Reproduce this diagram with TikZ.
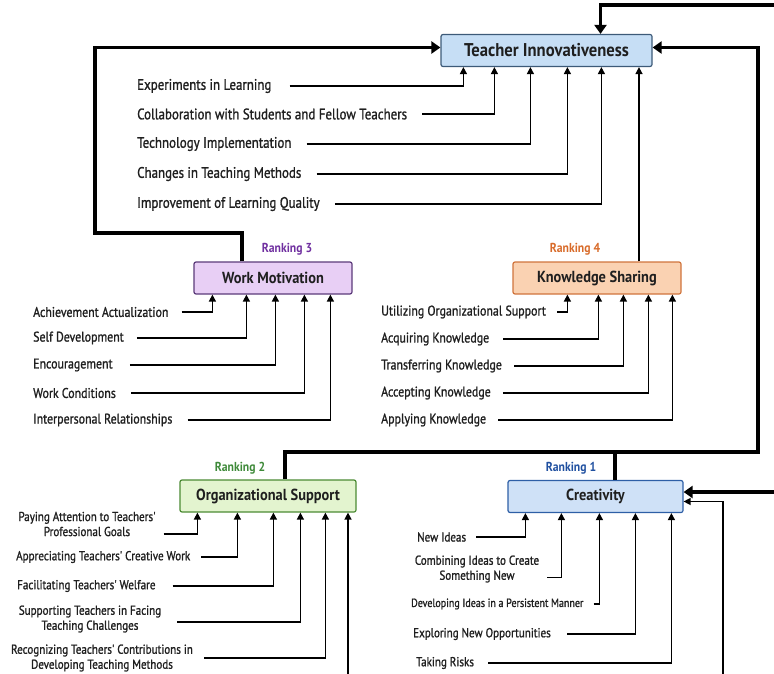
\documentclass[tikz,border=0pt]{standalone}
\usepackage{fontspec}
\setmainfont{PT Sans}
\newfontfamily\labelfont{PT Sans}[FakeStretch=0.85, FakeBold=1.2]
\newfontfamily\titlefont{PT Sans}[FakeStretch=0.9]
\usepackage{xcolor}
\usepackage{tikz}
\usetikzlibrary{arrows.meta,positioning,calc}
\definecolor{tiblue}{RGB}{198,222,245}
\definecolor{tiedge}{RGB}{61,90,120}
\definecolor{crblue}{RGB}{207,225,247}
\definecolor{credge}{RGB}{46,95,166}
\definecolor{wmpurple}{RGB}{232,207,245}
\definecolor{wmedge}{RGB}{91,58,122}
\definecolor{ksorange}{RGB}{250,210,178}
\definecolor{ksedge}{RGB}{208,116,60}
\definecolor{osgreen}{RGB}{227,244,207}
\definecolor{osedge}{RGB}{76,139,52}
\definecolor{rankone}{RGB}{32,80,160}
\definecolor{ranktwo}{RGB}{63,138,58}
\definecolor{rankthree}{RGB}{112,48,160}
\definecolor{rankfour}{RGB}{216,107,42}

\begin{document}
\begin{tikzpicture}[
  x=1pt, y=-1pt,
  every node/.style={text=black!88},
  factorbox/.style={rectangle, rounded corners=2pt, minimum height=32pt,
    inner sep=0pt, line width=1.2pt, font=\titlefont\bfseries\fontsize{16}{18}\selectfont},
  tinode/.style={factorbox, draw=tiedge, fill=tiblue, minimum width=211pt,
    font=\titlefont\bfseries\fontsize{18.5}{20}\selectfont},
  wmnode/.style={factorbox, draw=wmedge, fill=wmpurple, minimum width=158pt},
  ksnode/.style={factorbox, draw=ksedge, fill=ksorange, minimum width=168pt},
  osnode/.style={factorbox, draw=osedge, fill=osgreen, minimum width=176pt},
  crnode/.style={factorbox, draw=credge, fill=crblue, minimum width=175pt},
  ranklabel/.style={font=\titlefont\bfseries\fontsize{13}{14}\selectfont, inner sep=0pt},
  indicator/.style={anchor=west, inner sep=0pt, font=\labelfont\fontsize{14}{16}\selectfont},
  smallindicator/.style={indicator, font=\labelfont\fontsize{13}{15}\selectfont},
  indicator2/.style={align=center, inner sep=0pt, font=\labelfont\fontsize{13}{15}\selectfont},
  arr/.style={-{Triangle[length=7pt,width=7pt]}, line width=1.4pt},
  bigarr/.style={-{Triangle[length=9pt,width=12pt]}, line width=3.6pt},
  mainline/.style={line width=3.6pt},
]
  \useasboundingbox (0,0) rectangle (774,674);

  % Factors
  \node[tinode] (ti) at (546.5,50.5) {Teacher Innovativeness};
  \node[wmnode] (wm) at (273,278) {Work Motivation};
  \node[ksnode] (ks) at (597,278) {Knowledge Sharing};
  \node[osnode] (os) at (268,496) {Organizational Support};
  \node[crnode] (cr) at (595.5,496.5) {Creativity};

  % Rankings
  \node[ranklabel, text=rankthree] (r3) at (287,249) {Ranking 3};
  \node[ranklabel, text=rankfour] (r4) at (575,249) {Ranking 4};
  \node[ranklabel, text=ranktwo] (r2) at (240,468) {Ranking 2};
  \node[ranklabel, text=rankone] (r1) at (571,468) {Ranking 1};

  % Indicators of teacher innovativeness
  \node[indicator, font=\labelfont\fontsize{15.2}{17}\selectfont] (t1) at (137,86) {Experiments in Learning};
  \node[indicator, font=\labelfont\fontsize{15.2}{17}\selectfont] (t2) at (137,114) {Collaboration with Students and Fellow Teachers};
  \node[indicator, font=\labelfont\fontsize{15.2}{17}\selectfont] (t3) at (137,144) {Technology Implementation};
  \node[indicator, font=\labelfont\fontsize{15.2}{17}\selectfont] (t4) at (137,174) {Changes in Teaching Methods};
  \node[indicator, font=\labelfont\fontsize{15.2}{17}\selectfont] (t5) at (137,204) {Improvement of Learning Quality};

  % Indicators of work motivation
  \node[indicator] (w1) at (33,312) {Achievement Actualization};
  \node[indicator] (w2) at (33,338) {Self Development};
  \node[indicator] (w3) at (33,365) {Encouragement};
  \node[indicator] (w4) at (33,393) {Work Conditions};
  \node[indicator] (w5) at (33,420) {Interpersonal Relationships};

  % Indicators of knowledge sharing
  \node[indicator] (k1) at (381,312) {Utilizing Organizational Support};
  \node[indicator] (k2) at (381,339) {Acquiring Knowledge};
  \node[indicator] (k3) at (381,366) {Transferring Knowledge};
  \node[indicator] (k4) at (381,393) {Accepting Knowledge};
  \node[indicator] (k5) at (381,420) {Applying Knowledge};

  % Indicators of organizational support
  \node[indicator2] (o1) at (87,524) {Paying Attention to Teachers'\\Professional Goals};
  \node[smallindicator] (o2) at (16,557) {Appreciating Teachers' Creative Work};
  \node[smallindicator] (o3) at (17,586) {Facilitating Teachers' Welfare};
  \node[indicator2] (o4) at (90,619) {Supporting Teachers in Facing\\Teaching Challenges};
  \node[indicator2] (o5) at (102,658) {Recognizing Teachers' Contributions in\\Developing Teaching Methods};

  % Indicators of creativity
  \node[smallindicator] (c1) at (417,537) {New Ideas};
  \node[indicator2] (c2) at (477,569) {Combining Ideas to Create\\Something New};
  \node[indicator, font=\labelfont\fontsize{11.8}{13}\selectfont] (c3) at (411,604) {Developing Ideas in a Persistent Manner};
  \node[smallindicator] (c4) at (413,634) {Exploring New Opportunities};
  \node[smallindicator] (c5) at (416,663) {Taking Risks};

  % Free ends
  \coordinate (topin) at (774,5);
  \coordinate (leftturn) at (95,233);
  \coordinate (rightturn) at (758,452);
  \coordinate (crin) at (774,492);
  \coordinate (crloop) at (723,674);
  \coordinate (osloop) at (348,674);
  \coordinate (kstop) at ([xshift=42pt]ks.north);

  % Main paths
  \draw[bigarr] (topin) -| ([xshift=54pt]ti.north);
  \draw[bigarr] ([xshift=-31pt]wm.north) |- (leftturn) |- ([yshift=3pt]ti.west);
  \draw[bigarr] ([xshift=17pt]os.north) |- (rightturn) |- ([yshift=3pt]ti.east);
  \draw[mainline] ([xshift=19.5pt]cr.north) |- (rightturn);
  \draw[bigarr] (crin) -- ([yshift=4.5pt]cr.east);
  \draw[arr] (crloop) |- ([yshift=-5pt]cr.east);
  \draw[arr] (osloop) -- (osloop |- os.south);
  \draw[arr] (kstop) -- (kstop |- ti.south);

  % Edges to teacher innovativeness
  \draw[arr] ([xshift=18pt]t1.east) -| ([xshift=23pt]ti.south west);
  \draw[arr] ([xshift=15pt]t2.east) -| ([xshift=54pt]ti.south west);
  \draw[arr] ([xshift=15pt]t3.east) -| ([xshift=90pt]ti.south west);
  \draw[arr] ([xshift=15pt]t4.east) -| ([xshift=127pt]ti.south west);
  \draw[arr] ([xshift=15pt]t5.east) -| ([xshift=161pt]ti.south west);

  % Edges to work motivation
  \draw[arr] ([xshift=13pt]w1.east) -| ([xshift=19pt]wm.south west);
  \draw[arr] ([xshift=13pt]w2.east) -| ([xshift=53pt]wm.south west);
  \draw[arr] ([xshift=17pt]w3.east) -| ([xshift=82pt]wm.south west);
  \draw[arr] ([xshift=15pt]w4.east) -| ([xshift=111pt]wm.south west);
  \draw[arr] ([xshift=15pt]w5.east) -| ([xshift=137pt]wm.south west);

  % Edges to knowledge sharing
  \draw[arr] ([xshift=11pt]k1.east) -| ([xshift=55pt]ks.south west);
  \draw[arr] ([xshift=14pt]k2.east) -| ([xshift=86pt]ks.south west);
  \draw[arr] ([xshift=12pt]k3.east) -| ([xshift=111pt]ks.south west);
  \draw[arr] ([xshift=12pt]k4.east) -| ([xshift=136pt]ks.south west);
  \draw[arr] ([xshift=12pt]k5.east) -| ([xshift=160pt]ks.south west);

  % Edges to organizational support
  \draw[arr] ([xshift=8pt,yshift=-10pt]o1.east) -| ([xshift=18pt]os.south west);
  \draw[arr] ([xshift=11pt]o2.east) -| ([xshift=58pt]os.south west);
  \draw[arr] ([xshift=17pt]o3.east) -| ([xshift=94pt]os.south west);
  \draw[arr] ([xshift=16pt,yshift=-3pt]o4.east) -| ([xshift=121pt]os.south west);
  \draw[arr] ([xshift=11pt]o5.east) -| ([xshift=146pt]os.south west);

  % Edges to creativity
  \draw[arr] ([xshift=10pt]c1.east) -| ([xshift=18pt]cr.south west);
  \draw[arr] ([xshift=8pt,yshift=-8.5pt]c2.east) -| ([xshift=54pt]cr.south west);
  \draw[arr] ([xshift=10pt]c3.east) -| ([xshift=92pt]cr.south west);
  \draw[arr] ([xshift=16pt]c4.east) -| ([xshift=128pt]cr.south west);
  \draw[arr] ([xshift=14pt]c5.east) -| ([xshift=164pt]cr.south west);
\end{tikzpicture}
\end{document}
